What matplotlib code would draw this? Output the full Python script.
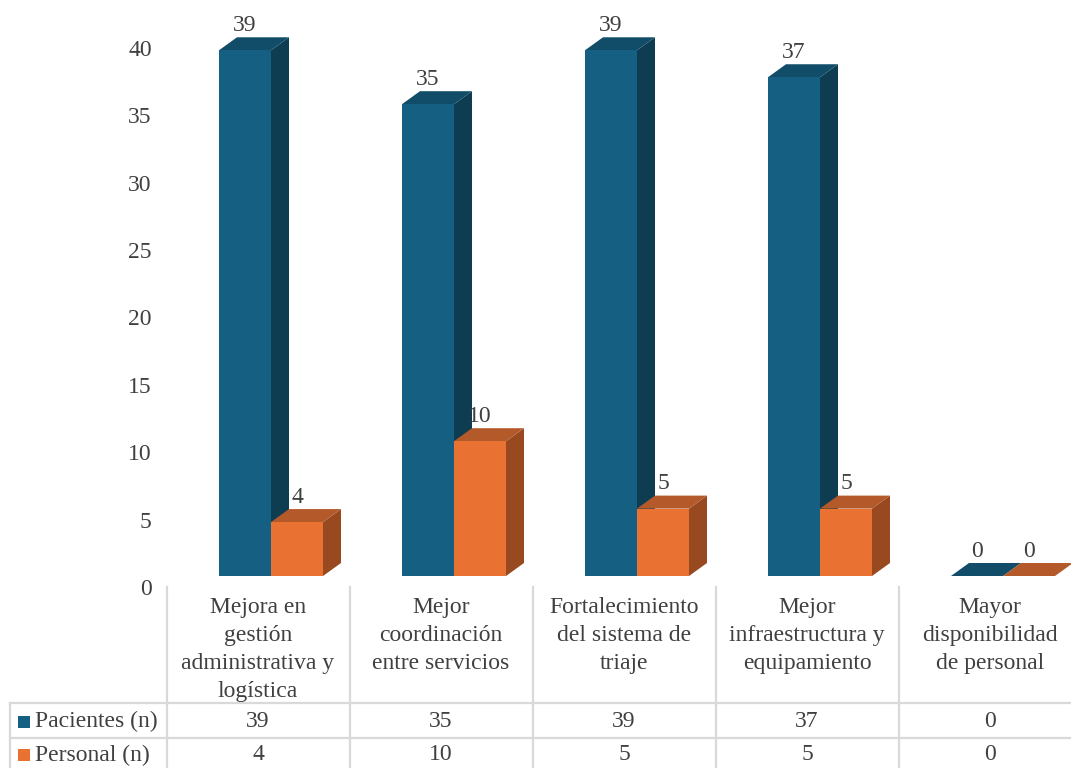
#!/usr/bin/env python3
import matplotlib
matplotlib.use("Agg")
import matplotlib.pyplot as plt
from matplotlib.patches import Polygon, Rectangle
from matplotlib.transforms import ScaledTranslation

categories = [
    "Mejora en\ngestión\nadministrativa y\nlogística",
    "Mejor\ncoordinación\nentre servicios",
    "Fortalecimiento\ndel sistema de\ntriaje",
    "Mejor\ninfraestructura y\nequipamiento",
    "Mayor\ndisponibilidad\nde personal",
]
series_names = ["Pacientes (n)", "Personal (n)"]
pacientes = [39, 35, 39, 37, 0]
personal = [4, 10, 5, 5, 0]
yticks = [0, 5, 10, 15, 20, 25, 30, 35, 40]

W, H, DPI = 1071, 768, 100
TXT = "#404040"
GRID = "#d9d9d9"
FONT = "Liberation Serif"
FS = 17

# front, top, side colours per series
colors = [
    ("#156082", "#114d69", "#0e3d52"),
    ("#e97132", "#b3592a", "#984920"),
]

plt.rcParams["font.family"] = [FONT, "DejaVu Serif"]

fig = plt.figure(figsize=(W / DPI, H / DPI), dpi=DPI)

# layout in pixels
col_w = 183.0
c0 = 258.0          # first category centre
ax_left, ax_right = 167.0, 1071.0
ax_top, ax_bot = 0.0, 587.0
y0_px = 576.0       # front floor
px_per_unit = 13.48

ax = fig.add_axes([ax_left / W, (H - ax_bot) / H,
                   (ax_right - ax_left) / W, (ax_bot - ax_top) / H])
x_lo = (ax_left - c0) / col_w
x_hi = (ax_right - c0) / col_w
ax.set_xlim(x_lo, x_hi)
ax.set_ylim(-(ax_bot - y0_px) / px_per_unit, (y0_px - ax_top) / px_per_unit)

bw = 52.0 / col_w
off = (219.0 - c0) / col_w
dx = 18.0 / col_w
dy = 13.0 / px_per_unit


def bar3d(x, h, cols):
    front, top, side = cols
    ax.add_patch(Polygon([(x + bw, 0), (x + bw + dx, dy), (x + bw + dx, h + dy), (x + bw, h)],
                         closed=True, facecolor=side, edgecolor="none"))
    ax.add_patch(Polygon([(x, h), (x + dx, h + dy), (x + bw + dx, h + dy), (x + bw, h)],
                         closed=True, facecolor=top, edgecolor="none"))
    if h > 0:
        ax.add_patch(Rectangle((x, 0), bw, h, facecolor=front, edgecolor="none"))
    ax.text(x + bw / 2, h + dy + 0.1, str(h), ha="center", va="bottom",
            fontsize=FS, color=TXT)


for i in range(len(categories)):
    for s, vals in enumerate([pacientes, personal]):
        bar3d(i + off + s * bw, vals[i], colors[s])

ax.set_xticks([])
ax.set_yticks(yticks)
ax.set_yticklabels([str(t) for t in yticks], fontsize=FS, color=TXT)
ax.tick_params(axis="y", length=0, pad=11)
shift = ScaledTranslation(0, -11.0 / DPI, fig.dpi_scale_trans)
for lab in ax.get_yticklabels():
    lab.set_transform(lab.get_transform() + shift)
for sp in ax.spines.values():
    sp.set_visible(False)
ax.patch.set_visible(False)

# data table below the chart, drawn on a pixel-space overlay
tb = fig.add_axes([0, 0, 1, 1])
tb.set_xlim(0, W)
tb.set_ylim(H, 0)
tb.axis("off")
tb.patch.set_visible(False)

row1, row2, bottom = 703.0, 738.0, 768.0
lw = 1.6
for k in range(6):
    xv = ax_left + k * col_w
    if xv <= W:
        tb.plot([xv, xv], [ax_bot, bottom], color=GRID, lw=lw)
tb.plot([10, 10], [row1, bottom], color=GRID, lw=lw)
for yv in (row1, row2):
    tb.plot([10, W], [yv, yv], color=GRID, lw=lw)

for i, cat in enumerate(categories):
    cx = c0 + i * col_w
    tb.text(cx, 597, cat, ha="center", va="top", fontsize=FS, color=TXT,
            linespacing=1.44)
    tb.text(cx, (row1 + row2) / 2 + 1, str(pacientes[i]), ha="center", va="center",
            fontsize=FS, color=TXT)
    tb.text(cx, (row2 + bottom) / 2 + 2, str(personal[i]), ha="center", va="center",
            fontsize=FS, color=TXT)

for s, (name, yc) in enumerate(zip(series_names, [(row1 + row2) / 2 + 1, (row2 + bottom) / 2 + 2])):
    tb.add_patch(Rectangle((18, yc - 6), 12, 12, facecolor=colors[s][0], edgecolor="none"))
    tb.text(35, yc, name, ha="left", va="center", fontsize=FS, color=TXT)

fig.savefig("out.png", dpi=DPI)
plt.close(fig)
